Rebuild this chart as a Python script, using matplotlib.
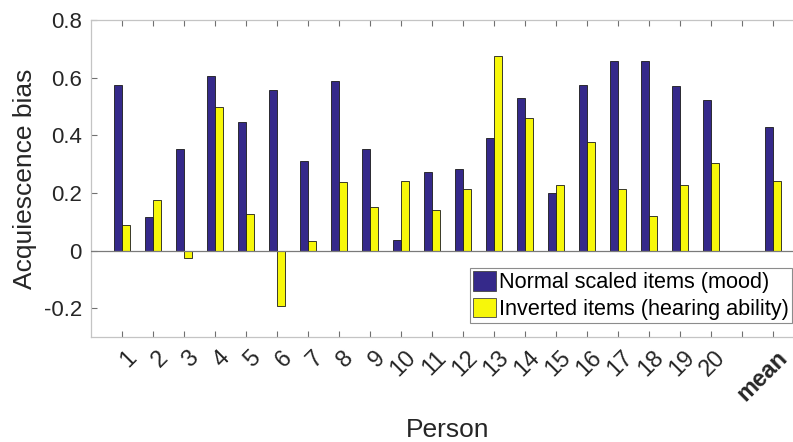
import matplotlib
matplotlib.use("Agg")
import matplotlib.pyplot as plt
import numpy as np

plt.rcParams['font.family'] = ['Liberation Sans', 'DejaVu Sans']

# acquiescence bias per person, last entry = mean
persons = [str(i) for i in range(1, 21)]
normal_items = [0.573, 0.117, 0.352, 0.606, 0.446, 0.556, 0.310, 0.590, 0.352, 0.036,
                0.271, 0.282, 0.392, 0.530, 0.201, 0.575, 0.657, 0.657, 0.572, 0.521]
inverted_items = [0.089, 0.177, -0.025, 0.499, 0.128, -0.192, 0.032, 0.237, 0.152, 0.240,
                  0.140, 0.215, 0.675, 0.461, 0.228, 0.376, 0.212, 0.120, 0.228, 0.304]
mean_normal = 0.427
mean_inverted = 0.242

blue = '#35298a'
yellow = '#f7f70a'

fig = plt.figure(figsize=(7.93, 4.42), dpi=100)
ax = fig.add_axes([91/793, 1-337/442, (803.7-91)/793, (337-20)/442])

x = np.arange(1, 21)
pos = np.append(x, 22)
vals_n = normal_items + [mean_normal]
vals_i = inverted_items + [mean_inverted]
w = 0.26
ax.bar(pos - w/2, vals_n, w, color=blue, edgecolor='#1a1a1a', linewidth=0.6,
       label='Normal scaled items (mood)', zorder=3)
ax.bar(pos + w/2, vals_i, w, color=yellow, edgecolor='#1a1a1a', linewidth=0.6,
       label='Inverted items (hearing ability)', zorder=3)
ax.axhline(0, color='#7a7a7a', lw=0.9, zorder=4)

ax.set_xlim(0, 23)
ax.set_ylim(-0.3, 0.8)
ax.set_yticks([-0.2, 0, 0.2, 0.4, 0.6, 0.8])
ax.set_yticklabels(['-0.2', '0', '0.2', '0.4', '0.6', '0.8'])

# major ticks carry the marks, labels sit on offset minor ticks (MATLAB-like placement)
ax.set_xticks(list(range(1, 23)))
ax.set_xticklabels([])
lbl_pos = np.arange(1, 23) + 0.36
labels = persons + ['', 'mean']
ax.set_xticks(lbl_pos, minor=True)
ax.set_xticklabels(labels, minor=True, rotation=45, ha='right', va='center',
                   rotation_mode='anchor')
ax.get_xticklabels(minor=True)[-1].set_fontweight('bold')

ax.tick_params(direction='in', top=True, right=True, length=4.5, width=0.8,
               color='#707070', labelsize=16, labelcolor='#262626')
ax.tick_params(axis='x', which='minor', length=0, top=False, pad=12.5,
               labelsize=16.8, labelcolor='#262626')
ax.tick_params(axis='y', pad=6.5)
for s in ax.spines.values():
    s.set_color('#c4c4c4')
    s.set_linewidth(0.9)

ax.set_ylabel('Acquiescence bias', fontsize=19, color='#262626', va='center')
ax.yaxis.set_label_coords(-0.0926, 0.5)
ax.set_xlabel('Person', fontsize=19, color='#262626', va='center')
ax.xaxis.set_label_coords(0.5, -0.293)

leg = ax.legend(loc='upper left', bbox_to_anchor=(470/793, 1-268/442),
                bbox_transform=fig.transFigure, fontsize=15.6, frameon=True,
                fancybox=False, framealpha=1, edgecolor='#8c8c8c',
                handlelength=1.05, handleheight=1.0, handletextpad=0.15,
                borderpad=0.15, labelspacing=0.2, borderaxespad=0)
leg.get_frame().set_linewidth(0.8)
for h in leg.legend_handles:
    h.set_edgecolor('#444444')

fig.savefig('out.png', dpi=100)
